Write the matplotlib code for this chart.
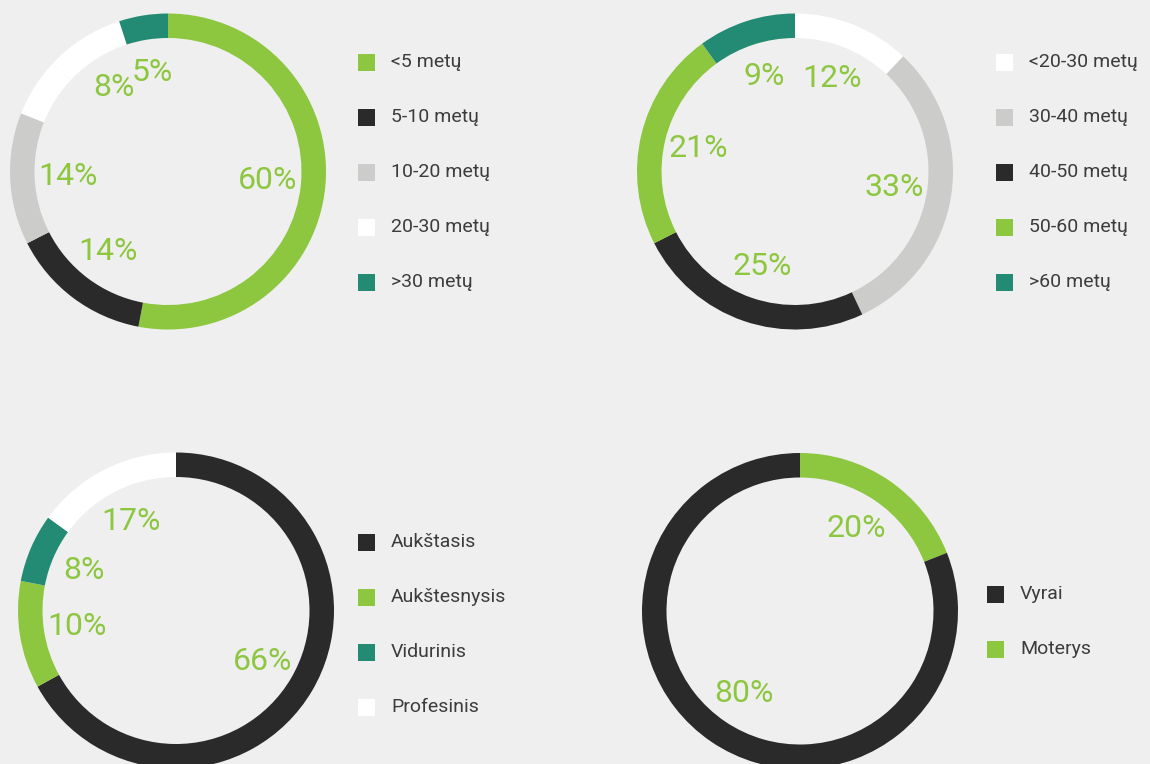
import matplotlib
matplotlib.use("Agg")
import numpy as np
import matplotlib.pyplot as plt
from matplotlib.patches import Rectangle

GREEN = "#8dc63f"
DARK = "#2a2a2a"
GREY = "#cccccb"
WHITE = "#ffffff"
TEAL = "#238b73"
BG = "#efefef"

# stazas
stazas_values = [53, 14.5, 13.5, 6, 8, 5]
stazas_labels = ["60%", "14%", "14%", "", "8%", "5%"]
stazas_colors = [GREEN, DARK, GREY, WHITE, WHITE, TEAL]
stazas_legend = ["<5 metų", "5-10 metų", "10-20 metų", "20-30 metų", ">30 metų"]
stazas_legend_colors = [GREEN, DARK, GREY, WHITE, TEAL]

# amzius
amzius_values = [12, 31, 24.5, 22.5, 10]
amzius_labels = ["12%", "33%", "25%", "21%", "9%"]
amzius_colors = [WHITE, GREY, DARK, GREEN, TEAL]
amzius_legend = ["<20-30 metų", "30-40 metų", "40-50 metų", "50-60 metų", ">60 metų"]
amzius_legend_colors = [WHITE, GREY, DARK, GREEN, TEAL]

# issilavinimas
issil_values = [67, 11, 7, 15]
issil_labels = ["66%", "10%", "8%", "17%"]
issil_colors = [DARK, GREEN, TEAL, WHITE]
issil_legend = ["Aukštasis", "Aukštesnysis", "Vidurinis", "Profesinis"]

# lytis
lytis_values = [19, 81]
lytis_labels = ["20%", "80%"]
lytis_colors = [GREEN, DARK]
lytis_legend = ["Vyrai", "Moterys"]
lytis_legend_colors = [DARK, GREEN]

W, H = 1150, 764
R = 158
RING = 24.5


def donut(ax, center, values, colors, labels):
    ax.pie(values, colors=colors, center=center, radius=R, startangle=90,
           counterclock=False, wedgeprops=dict(width=RING, linewidth=0))
    fr = np.array(values, dtype=float) / sum(values)
    mids = (np.cumsum(fr) - fr / 2) * 2 * np.pi
    for lab, a in zip(labels, mids):
        if not lab:
            continue
        x = center[0] + 100 * np.sin(a)
        y = center[1] + 100 * np.cos(a)
        ax.text(x, y, lab, color=GREEN, fontsize=23, ha="center", va="center",
                fontfamily="Roboto", fontweight="normal")


def legend(ax, x, y_top, names, colors, step=55, size=17):
    for i, (name, c) in enumerate(zip(names, colors)):
        y = y_top - i * step
        ax.add_patch(Rectangle((x, y - size / 2), size, size, facecolor=c, edgecolor="none"))
        ax.text(x + size + 16, y, name, color="#3c3c3c", fontsize=14, va="center", ha="left",
                fontfamily="Roboto")


fig = plt.figure(figsize=(11.5, 7.64), dpi=100, facecolor=BG)
ax = fig.add_axes([0, 0, 1, 1])
ax.set_facecolor(BG)

donut(ax, (168, H - 171.5), stazas_values, stazas_colors, stazas_labels)
donut(ax, (795, H - 171.5), amzius_values, amzius_colors, amzius_labels)
donut(ax, (176, H - 610.5), issil_values, issil_colors, issil_labels)
donut(ax, (800, H - 611), lytis_values, lytis_colors, lytis_labels)

legend(ax, 358, H - 62, stazas_legend, stazas_legend_colors)
legend(ax, 996, H - 62, amzius_legend, amzius_legend_colors)
legend(ax, 358, H - 542, issil_legend, issil_colors)
legend(ax, 987, H - 594, lytis_legend, lytis_legend_colors)

ax.set_xlim(0, W)
ax.set_ylim(0, H)
ax.set_aspect("equal")
ax.axis("off")

fig.savefig("out.png", dpi=100, facecolor=BG)
